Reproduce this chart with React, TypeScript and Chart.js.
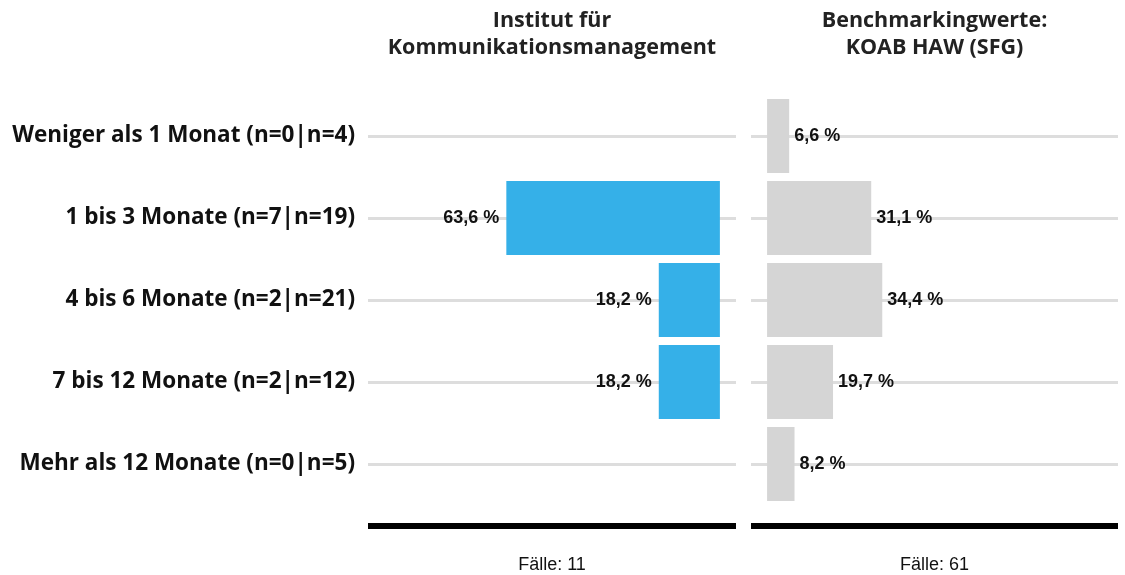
import React, { useEffect, useRef } from "react";
import { Chart, registerables } from "chart.js";

Chart.register(...registerables);

const categories = [
  "Weniger als 1 Monat (n=0|n=4)",
  "1 bis 3 Monate (n=7|n=19)",
  "4 bis 6 Monate (n=2|n=21)",
  "7 bis 12 Monate (n=2|n=12)",
  "Mehr als 12 Monate (n=0|n=5)",
];
const instituteValues = [0, 63.6, 18.2, 18.2, 0];
const benchmarkValues = [6.6, 31.1, 34.4, 19.7, 8.2];
const instituteTitle = ["Institut für", "Kommunikationsmanagement"];
const benchmarkTitle = ["Benchmarkingwerte:", "KOAB HAW (SFG)"];
const instituteCases = 11;
const benchmarkCases = 61;

const BLUE = "#35b0e8";
const GRAY = "#d5d5d5";
const TITLE_FONT = "bold 21.5px 'Open Sans'";
const CAT_FONT_FAMILY = "'Open Sans'";

const fmt = (v: number) => v.toFixed(1).replace(".", ",") + " %";

const decoPlugin = {
  id: "deco",
  afterDraw(chart: any, _args: any, opts: any) {
    const { ctx, chartArea } = chart;
    const { left, right, top, bottom } = chartArea;
    const cx = (left + right) / 2;
    ctx.save();
    // titles
    ctx.fillStyle = "#222";
    ctx.font = TITLE_FONT;
    ctx.textAlign = "center";
    ctx.textBaseline = "middle";
    (opts.title as string[]).forEach((t, i) => {
      ctx.fillText(t, cx, top - 74 + i * 27);
    });
    // bottom black line
    ctx.fillStyle = "#000";
    ctx.fillRect(left, bottom + 18, right - left, 6);
    // footer
    ctx.fillStyle = "#111";
    ctx.font = "18px 'Liberation Sans', Arial, sans-serif";
    ctx.fillText("Fälle: " + opts.cases, cx, bottom + 60);
    // value labels
    const meta = chart.getDatasetMeta(0);
    const data = chart.data.datasets[0].data as number[];
    ctx.font = "bold 18px 'Liberation Sans', Arial, sans-serif";
    ctx.fillStyle = "#111";
    meta.data.forEach((el: any, i: number) => {
      const v = data[i];
      if (!v) return;
      if (opts.side === "left") {
        ctx.textAlign = "right";
        ctx.fillText(fmt(v), el.x - 7, el.y);
      } else {
        ctx.textAlign = "left";
        ctx.fillText(fmt(v), el.x + 5, el.y);
      }
    });
    ctx.restore();
  },
};

function makeConfig(side: "left" | "right", values: number[], color: string, title: string[], cases: number): any {
  const isLeft = side === "left";
  return {
    type: "bar",
    data: {
      labels: categories,
      datasets: [
        {
          data: values,
          backgroundColor: color,
          borderWidth: 0,
          categoryPercentage: 0.9,
          barPercentage: 1,
        },
      ],
    },
    plugins: [decoPlugin],
    options: {
      indexAxis: "y",
      animation: false,
      responsive: false,
      layout: {
        padding: isLeft
          ? { left: 0, right: 4, top: 95, bottom: 70 }
          : { left: 0, right: 7, top: 95, bottom: 70 },
      },
      plugins: {
        legend: { display: false },
        tooltip: { enabled: false },
        title: { display: false },
        deco: { side, title, cases },
      },
      scales: {
        x: {
          display: false,
          min: -4.8,
          max: 104.8,
          reverse: isLeft,
        },
        y: {
          z: 1,
          offset: true,
          grid: {
            offset: false,
            drawTicks: false,
            color: "rgba(170,170,170,0.4)",
            lineWidth: 3,
          },
          border: { display: false },
          ticks: {
            display: isLeft,
            padding: 13,
            color: "#111",
            font: { family: CAT_FONT_FAMILY, size: 22.5, weight: "bold" },
          },
          afterFit: (scale: any) => {
            scale.width = isLeft ? 368 : 11;
          },
        },
      },
    },
  };
}

function Panel({ side, values, color, title, cases, x, width }: any) {
  const ref = useRef<HTMLCanvasElement | null>(null);
  useEffect(() => {
    if (!ref.current) return;
    const chart = new Chart(ref.current, makeConfig(side, values, color, title, cases));
    return () => chart.destroy();
  }, []);
  return (
    <canvas
      ref={ref}
      width={width}
      height={575}
      style={{ position: "absolute", left: x, top: 0, width, height: 575 }}
    />
  );
}

export default function App() {
  return (
    <div style={{ position: "fixed", left: 0, top: 0, width: 1125, height: 575, background: "#fff" }}>
      <Panel side="left" values={instituteValues} color={BLUE} title={instituteTitle} cases={instituteCases} x={0} width={740} />
      <Panel side="right" values={benchmarkValues} color={GRAY} title={benchmarkTitle} cases={benchmarkCases} x={740} width={385} />
    </div>
  );
}
